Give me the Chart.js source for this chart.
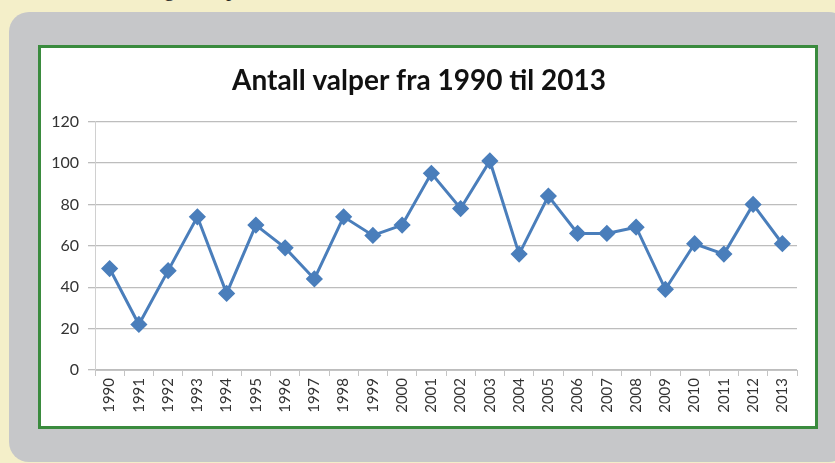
<!DOCTYPE html>
<html>
<head>
<meta charset="utf-8">
<script src="https://cdn.jsdelivr.net/npm/chart.js@4"></script>
<style>
  html, body { margin: 0; padding: 0; }
  body { width: 835px; height: 463px; background: #f4efc9; position: relative; overflow: hidden; }
  .cut { position: absolute; top: -23px; font: 21px "Liberation Serif", serif; color: #222; }
  .panel { position: absolute; left: 9px; top: 12px; width: 840px; height: 450px; background: #c6c7c9; border-radius: 20px; }
  .box { position: absolute; left: 38px; top: 45px; width: 774px; height: 378px; background: #fff; border: 3px solid #3a8b3e; }
  .box canvas { display: block; }
</style>
</head>
<body>
<span class="cut" style="left:164px">g</span>
<span class="cut" style="left:226px">p</span>
<div class="panel"></div>
<div class="box"><canvas id="myChart" width="774" height="378"></canvas></div>
<script>
// data
const years = ["1990", "1991", "1992", "1993", "1994", "1995", "1996", "1997", "1998", "1999", "2000", "2001",
  "2002", "2003", "2004", "2005", "2006", "2007", "2008", "2009", "2010", "2011", "2012", "2013"];
const valper = [49, 22, 48, 74, 37, 70, 59, 44, 74, 65, 70, 95, 78, 101, 56, 84, 66, 66, 69, 39, 61, 56, 80, 61];
const yTicks = [0, 20, 40, 60, 80, 100, 120];

const ctx = document.getElementById('myChart');

new Chart(ctx, {
  type: 'line',
  data: {
    labels: years,
    datasets: [{
      label: 'Antall valper',
      data: valper,
      borderColor: '#4a7ebb',
      backgroundColor: '#4a7ebb',
      borderWidth: 3,
      tension: 0,
      pointStyle: 'rectRot',
      pointRadius: 6.5,
      pointHoverRadius: 6.5
    }]
  },
  options: {
    responsive: false,
    animation: false,
    layout: { padding: { left: 0, right: 18, top: 0, bottom: 0 } },
    plugins: {
      legend: { display: false },
      tooltip: { enabled: false },
      title: {
        display: true,
        text: 'Antall valper fra 1990 til 2013',
        color: '#111',
        font: { family: 'Lato', size: 28, weight: 'bold' },
        padding: { top: 16, bottom: 24 }
      }
    },
    scales: {
      x: {
        offset: true,
        grid: {
          offset: true,
          drawOnChartArea: false,
          drawTicks: true,
          tickLength: 6,
          color: '#c4c4c4'
        },
        border: { color: '#c4c4c4', width: 1 },
        ticks: {
          color: '#333',
          font: { family: 'Lato', size: 15 },
          minRotation: 90,
          maxRotation: 90,
          padding: 2,
          autoSkip: false
        },
        afterFit: (scale) => { scale.height = 56; }
      },
      y: {
        min: 0,
        max: 120,
        afterBuildTicks: (scale) => { scale.ticks = yTicks.map(v => ({ value: v })); },
        grid: {
          color: '#bdbdbd',
          lineWidth: 1.3,
          tickLength: 7
        },
        border: { color: '#d0d0d0', width: 1 },
        ticks: {
          color: '#333',
          font: { family: 'Lato', size: 16 },
          padding: 9
        },
        afterFit: (scale) => { scale.width = 54; }
      }
    }
  }
});
</script>
</body>
</html>
